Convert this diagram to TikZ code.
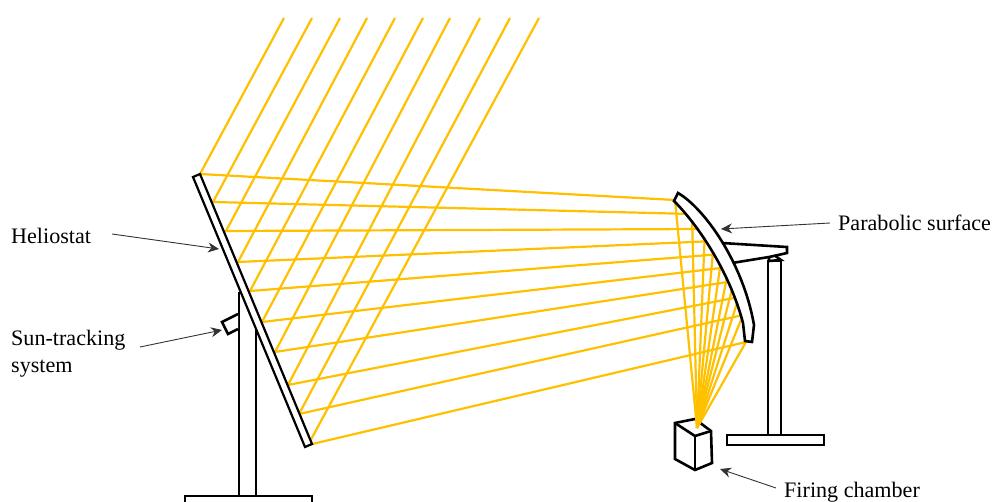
\documentclass[tikz,border=0pt]{standalone}
\usepackage{fontspec}
\setmainfont{Liberation Serif}
\usepackage{tikz}
\usetikzlibrary{arrows.meta}
\definecolor{rayorange}{HTML}{FFC000}
\tikzset{
    solarray/.style={draw=rayorange, line width=2.2pt},
    solarpart/.style={draw=black, line width=2.6pt, fill=white, line join=miter},
    solarleader/.style={draw=black!80, line width=0.9pt, -{Stealth[length=11pt,width=10pt]}},
    solarlabel/.style={anchor=west, align=left, font=\fontsize{22.1}{27}\selectfont, inner sep=0pt}
}

\begin{document}
\begin{tikzpicture}[x=1pt, y=-1pt]
    \useasboundingbox (0,0) rectangle (993,501);

    % ray points
    \foreach \i/\sx/\hx/\hy/\dx/\dy in {
        1/284/200/174/675/200, 2/312/213/202/692/214, 3/340/226/231/705/229,
        4/367/238/262/714/241, 5/395/250/291/722/254, 6/423/262/322/729/267,
        7/450/275/352/734/281, 8/480/288/385/739/297, 9/510/299/414/743/315,
        10/539/308/445/746/342}{
        \coordinate (sun\i) at (\sx,18);
        \coordinate (helio\i) at (\hx,\hy);
        \coordinate (dish\i) at (\dx,\dy);
    }
    \coordinate (focus) at (697,428);

    % chamber
    \draw[solarpart] (675,423) -- (695,419) -- (711,431) -- (712,463) -- (695,470) -- (675,459) -- cycle;
    \draw[solarpart] (675,423) -- (695,436) -- (711,431);
    \draw[solarpart] (695,436) -- (695,470);

    % rays
    \foreach \i in {1,...,10}{
        \draw[solarray] (sun\i) -- (helio\i) -- (dish\i) -- (focus);
    }

    % dish support
    \draw[solarpart] (768,261) rectangle (781,435);
    \draw[solarpart] (727,435) rectangle (824,445);
    \draw[solarpart] (769,257) -- (774,255) -- (781,260) -- (769,261) -- cycle;
    \draw[solarpart] (722,243) -- (787,247) -- (787,253) -- (769,257) -- (732,263) -- cycle;

    % dish
    \draw[solarpart] (678,193) .. controls (704,208) and (743,262) .. (754,325)
        -- (752,342) -- (745,341) -- (743,323)
        .. controls (729,270) and (697,224) .. (674,201) -- cycle;

    % heliostat
    \draw[solarpart] (239,292) -- (239,496) -- (256,496) -- (256,330);
    \draw[solarpart] (185,496) rectangle (312,508);
    \draw[solarpart] (238,314) -- (222,322) -- (228,334) -- (238,329);
    \draw[solarpart, line width=2.2pt] (193,177) -- (200,174) -- (312,444) -- (305,447) -- cycle;

    % labels
    \node[solarlabel] (heliostat) at (11,236) {Heliostat};
    \node[solarlabel] (tracking) at (11,354) {Sun-tracking\\system};
    \node[solarlabel] (parabolic) at (838,223) {Parabolic surface};
    \node[solarlabel] (chamber) at (784,492) {Firing chamber};

    % leaders
    \coordinate (heliostatfrom) at (112,234);
    \coordinate (heliostatto) at (219,249);
    \coordinate (trackingfrom) at (140,347);
    \coordinate (trackingto) at (222,330);
    \coordinate (parabolicfrom) at (830,223);
    \coordinate (parabolicto) at (721,229);
    \coordinate (chamberfrom) at (776,488);
    \coordinate (chamberto) at (720,469);
    \draw[solarleader] (heliostatfrom) -- (heliostatto);
    \draw[solarleader] (trackingfrom) -- (trackingto);
    \draw[solarleader] (parabolicfrom) -- (parabolicto);
    \draw[solarleader] (chamberfrom) -- (chamberto);
\end{tikzpicture}
\end{document}
